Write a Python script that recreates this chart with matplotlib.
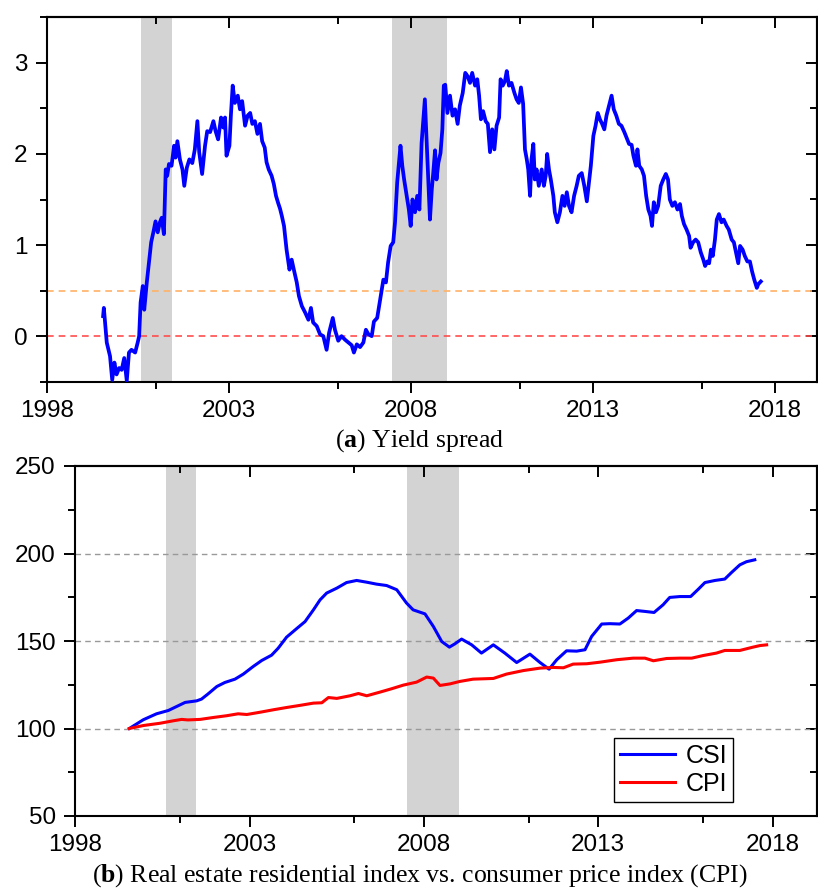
import numpy as np
import matplotlib
matplotlib.use("Agg")
import matplotlib.pyplot as plt
from matplotlib.ticker import FixedLocator

plt.rcParams["font.family"] = ["Liberation Sans", "DejaVu Sans"]
plt.rcParams["mathtext.fontset"] = "custom"
plt.rcParams["mathtext.rm"] = "Liberation Serif"
plt.rcParams["mathtext.bf"] = "Liberation Serif:bold"

# (a) yield spread
spread_t = [1999.55, 1999.57, 1999.65, 1999.74, 1999.80, 1999.86, 1999.92, 1999.99, 2000.06, 2000.13,
            2000.20, 2000.26, 2000.33, 2000.43, 2000.50, 2000.54, 2000.58, 2000.64, 2000.68, 2000.75,
            2000.81, 2000.87, 2000.93, 2000.99, 2001.05, 2001.11, 2001.16, 2001.22, 2001.27, 2001.31,
            2001.36, 2001.43, 2001.50, 2001.54, 2001.59, 2001.66, 2001.73, 2001.78, 2001.85, 2001.92,
            2002.00, 2002.07, 2002.14, 2002.19, 2002.27, 2002.35, 2002.41, 2002.49, 2002.58, 2002.64,
            2002.71, 2002.79, 2002.85, 2002.90, 2002.94, 2003.02, 2003.06, 2003.11, 2003.17, 2003.25,
            2003.31, 2003.37, 2003.45, 2003.52, 2003.59, 2003.65, 2003.72, 2003.79, 2003.86, 2003.92,
            2003.99, 2004.04, 2004.10, 2004.18, 2004.24, 2004.30, 2004.36, 2004.41, 2004.46, 2004.52,
            2004.59, 2004.67, 2004.73, 2004.79, 2004.87, 2004.93, 2005.01, 2005.10, 2005.19, 2005.26,
            2005.32, 2005.42, 2005.51, 2005.60, 2005.69, 2005.76, 2005.86, 2005.92, 2006.01, 2006.10,
            2006.20, 2006.29, 2006.38, 2006.44, 2006.52, 2006.61, 2006.70, 2006.77, 2006.84, 2006.93,
            2006.99, 2007.08, 2007.16, 2007.25, 2007.32, 2007.38, 2007.45, 2007.52, 2007.57, 2007.63,
            2007.68, 2007.72, 2007.77, 2007.82, 2007.89, 2007.95, 2008.00, 2008.05, 2008.12, 2008.18,
            2008.24, 2008.30, 2008.35, 2008.39, 2008.44, 2008.48, 2008.53, 2008.58, 2008.62, 2008.67,
            2008.71, 2008.76, 2008.82, 2008.87, 2008.91, 2008.95, 2009.01, 2009.08, 2009.15, 2009.22,
            2009.29, 2009.35, 2009.43, 2009.50, 2009.57, 2009.63, 2009.69, 2009.77, 2009.83, 2009.88,
            2009.93, 2009.99, 2010.06, 2010.12, 2010.18, 2010.24, 2010.30, 2010.36, 2010.43, 2010.47,
            2010.53, 2010.59, 2010.64, 2010.70, 2010.77, 2010.85, 2010.91, 2010.97, 2011.03, 2011.09,
            2011.14, 2011.19, 2011.23, 2011.28, 2011.32, 2011.37, 2011.41, 2011.46, 2011.52, 2011.60,
            2011.66, 2011.71, 2011.75, 2011.80, 2011.85, 2011.92, 2011.96, 2012.03, 2012.10, 2012.17,
            2012.23, 2012.29, 2012.35, 2012.42, 2012.49, 2012.56, 2012.62, 2012.70, 2012.77, 2012.84,
            2012.90, 2012.95, 2013.02, 2013.08, 2013.14, 2013.20, 2013.26, 2013.32, 2013.38, 2013.45,
            2013.52, 2013.58, 2013.65, 2013.72, 2013.79, 2013.87, 2013.93, 2014.00, 2014.07, 2014.12,
            2014.19, 2014.23, 2014.28, 2014.35, 2014.41, 2014.47, 2014.53, 2014.59, 2014.63, 2014.68,
            2014.74, 2014.80, 2014.87, 2014.94, 2015.01, 2015.07, 2015.12, 2015.19, 2015.26, 2015.33,
            2015.40, 2015.45, 2015.51, 2015.58, 2015.65, 2015.69, 2015.76, 2015.83, 2015.90, 2015.97,
            2016.04, 2016.09, 2016.15, 2016.20, 2016.25, 2016.30, 2016.36, 2016.41, 2016.47, 2016.54,
            2016.60, 2016.68, 2016.74, 2016.82, 2016.88, 2016.96, 2017.00, 2017.05, 2017.12, 2017.18,
            2017.25, 2017.32, 2017.38, 2017.44, 2017.51, 2017.55, 2017.62]
spread_v = [0.22, 0.31, -0.07, -0.22, -0.48, -0.29, -0.42, -0.35, -0.37, -0.24,
            -0.49, -0.18, -0.15, -0.18, -0.07, 0.00, 0.37, 0.55, 0.29, 0.59,
            0.81, 1.03, 1.14, 1.26, 1.14, 1.25, 1.30, 1.12, 1.83, 1.76,
            1.89, 1.87, 2.09, 1.96, 2.14, 1.94, 1.83, 1.65, 1.85, 1.94,
            1.90, 2.05, 2.36, 2.02, 1.78, 2.09, 2.25, 2.24, 2.36, 2.25,
            2.16, 2.40, 2.29, 2.40, 1.98, 2.09, 2.42, 2.75, 2.56, 2.64,
            2.49, 2.58, 2.31, 2.42, 2.45, 2.33, 2.36, 2.22, 2.33, 2.14,
            2.07, 1.91, 1.83, 1.76, 1.67, 1.54, 1.46, 1.40, 1.32, 1.21,
            0.95, 0.73, 0.84, 0.73, 0.59, 0.44, 0.33, 0.26, 0.18, 0.31,
            0.15, 0.11, 0.02, 0.00, -0.15, 0.04, 0.20, 0.07, -0.05, 0.00,
            -0.04, -0.07, -0.10, -0.18, -0.09, -0.12, -0.07, 0.07, 0.02, 0.00,
            0.16, 0.20, 0.40, 0.62, 0.59, 0.81, 0.99, 1.03, 1.25, 1.69,
            1.91, 2.09, 1.87, 1.72, 1.54, 1.39, 1.21, 1.50, 1.36, 1.54,
            1.39, 2.12, 2.38, 2.60, 2.12, 1.72, 1.28, 1.61, 1.79, 2.04,
            1.72, 1.90, 2.01, 2.27, 2.75, 2.76, 2.45, 2.64, 2.42, 2.49,
            2.33, 2.53, 2.67, 2.89, 2.85, 2.78, 2.89, 2.75, 2.82, 2.64,
            2.38, 2.47, 2.36, 2.33, 2.02, 2.27, 2.05, 2.31, 2.40, 2.82,
            2.75, 2.80, 2.91, 2.75, 2.78, 2.67, 2.60, 2.56, 2.73, 2.55,
            2.05, 1.94, 1.83, 1.54, 1.94, 2.11, 1.72, 1.83, 1.65, 1.83,
            1.65, 1.76, 2.00, 1.83, 1.72, 1.54, 1.36, 1.25, 1.36, 1.54,
            1.43, 1.58, 1.43, 1.36, 1.54, 1.65, 1.76, 1.79, 1.65, 1.48,
            1.69, 1.87, 2.20, 2.31, 2.45, 2.38, 2.33, 2.27, 2.42, 2.53,
            2.64, 2.49, 2.42, 2.33, 2.31, 2.24, 2.18, 2.11, 2.10, 1.98,
            1.87, 2.05, 1.87, 1.83, 1.76, 1.54, 1.39, 1.32, 1.21, 1.47,
            1.36, 1.43, 1.65, 1.72, 1.78, 1.72, 1.50, 1.43, 1.47, 1.39,
            1.45, 1.32, 1.23, 1.17, 1.10, 0.97, 1.03, 1.06, 1.03, 0.92,
            0.84, 0.77, 0.82, 0.80, 0.95, 0.88, 1.06, 1.28, 1.34, 1.25,
            1.28, 1.21, 1.17, 1.06, 1.03, 0.88, 0.80, 0.99, 0.95, 0.88,
            0.82, 0.82, 0.71, 0.62, 0.53, 0.57, 0.60]

# (b) CSI and CPI, both 100 at start
csi_t = [1999.55, 1999.95, 2000.33, 2000.67, 2000.91, 2001.15, 2001.48, 2001.62, 2001.81, 2002.06,
         2002.29, 2002.58, 2002.82, 2003.10, 2003.35, 2003.63, 2003.82, 2004.06, 2004.35, 2004.59,
         2004.83, 2005.02, 2005.21, 2005.50, 2005.78, 2006.07, 2006.36, 2006.64, 2006.93, 2007.22,
         2007.50, 2007.69, 2008.03, 2008.27, 2008.51, 2008.73, 2008.89, 2009.08, 2009.37, 2009.65,
         2009.99, 2010.32, 2010.66, 2011.04, 2011.33, 2011.59, 2011.81, 2012.09, 2012.38, 2012.62,
         2012.81, 2013.10, 2013.33, 2013.62, 2013.86, 2014.10, 2014.34, 2014.60, 2014.86, 2015.05,
         2015.34, 2015.65, 2015.87, 2016.06, 2016.35, 2016.63, 2016.82, 2017.06, 2017.25, 2017.49]
csi_v = [100.0, 105.0, 108.4, 110.3, 112.6, 114.9, 115.8, 116.8, 119.8, 124.0,
         126.3, 128.2, 131.1, 135.4, 138.9, 141.9, 145.9, 152.2, 157.1, 161.1,
         167.8, 173.5, 177.4, 180.2, 183.4, 184.6, 183.6, 182.5, 181.7, 179.3,
         171.7, 167.8, 165.5, 158.3, 149.7, 146.5, 148.4, 151.1, 147.8, 143.1,
         147.8, 143.1, 137.7, 142.5, 137.7, 133.9, 139.3, 144.4, 144.2, 145.0,
         152.6, 159.7, 159.9, 159.7, 163.1, 167.4, 166.9, 166.3, 170.7, 174.9,
         175.4, 175.4, 179.6, 183.4, 184.6, 185.4, 189.1, 193.5, 195.3, 196.4]
cpi_t = [1999.55, 1999.95, 2000.43, 2000.81, 2001.05, 2001.23, 2001.58, 2001.96, 2002.34, 2002.67,
         2002.92, 2003.30, 2003.68, 2004.06, 2004.44, 2004.83, 2005.07, 2005.26, 2005.50, 2005.88,
         2006.12, 2006.36, 2006.74, 2007.07, 2007.41, 2007.79, 2008.08, 2008.27, 2008.46, 2008.75,
         2009.03, 2009.41, 2009.99, 2010.37, 2010.85, 2011.33, 2011.71, 2012.00, 2012.28, 2012.67,
         2013.05, 2013.53, 2014.00, 2014.34, 2014.58, 2014.96, 2015.34, 2015.68, 2016.01, 2016.39,
         2016.63, 2017.06, 2017.44, 2017.64, 2017.83]
cpi_v = [100.0, 101.7, 103.0, 104.4, 105.2, 104.9, 105.2, 106.3, 107.3, 108.4,
         108.0, 109.3, 110.7, 112.0, 113.2, 114.5, 114.7, 117.7, 117.2, 118.7,
         120.0, 118.7, 120.8, 122.7, 124.8, 126.5, 129.4, 128.8, 124.6, 125.5,
         126.9, 128.2, 128.6, 131.1, 133.1, 134.5, 134.9, 134.7, 136.8, 137.0,
         137.9, 139.3, 140.2, 140.2, 138.7, 140.0, 140.2, 140.2, 141.7, 143.1,
         144.6, 144.6, 146.5, 147.4, 147.8]

# shaded periods (as placed on the chart's year axis)
shades = [(2000.6, 2001.45), (2007.5, 2009.0)]

major_years = [1998, 2003, 2008, 2013, 2018]
minor_years = [2001, 2006, 2011, 2016]

fig = plt.figure(figsize=(8.18, 8.89), dpi=100)
ax1 = fig.add_axes([46.7 / 818, 1 - 381.7 / 889, (816.5 - 46.7) / 818, (381.7 - 17.3) / 889])
ax2 = fig.add_axes([75.3 / 818, 1 - 816 / 889, (816.5 - 75.3) / 818, (816 - 466) / 889])


def style(ax, xlim, ylim, yticks, yminor):
    ax.set_xlim(*xlim)
    ax.set_ylim(*ylim)
    ax.set_xticks(major_years)
    ax.xaxis.set_minor_locator(FixedLocator(minor_years))
    ax.set_yticks(yticks)
    ax.yaxis.set_minor_locator(FixedLocator(yminor))
    ax.tick_params(which="both", direction="out", width=1.4, labelsize=17.5)
    ax.tick_params(axis="x", pad=5)
    ax.tick_params(axis="y", pad=6)
    ax.tick_params(which="major", length=8)
    ax.tick_params(which="minor", length=5)
    for s in ax.spines.values():
        s.set_linewidth(1.5)
    # mirrored inward ticks on top and right
    top = ax.secondary_xaxis("top")
    top.set_xticks(major_years)
    top.xaxis.set_minor_locator(FixedLocator(minor_years))
    top.tick_params(which="both", direction="in", width=1.4, labeltop=False)
    top.tick_params(which="major", length=8)
    top.tick_params(which="minor", length=5)
    right = ax.secondary_yaxis("right")
    right.set_yticks(yticks)
    right.yaxis.set_minor_locator(FixedLocator(yminor))
    right.tick_params(which="both", direction="in", width=1.4, labelright=False)
    right.tick_params(which="major", length=8)
    right.tick_params(which="minor", length=5)
    for s in list(top.spines.values()) + list(right.spines.values()):
        s.set_linewidth(1.5)


# --- panel (a)
for a, b in shades:
    ax1.axvspan(a, b, color="#d3d3d3", lw=0, zorder=0)
ax1.axhline(0.5, color="#ffb266", ls=(0, (4, 3)), lw=1.2, zorder=1)
ax1.axhline(0.0, color="#ff4d4d", ls=(0, (4, 3)), lw=1.2, zorder=1)
ax1.plot(spread_t, spread_v, color="#0000ff", lw=2.7, zorder=3)
style(ax1, (1998, 2019.15), (-0.5, 3.5), [0, 1, 2, 3], [-0.5, 0.5, 1.5, 2.5, 3.5])

# --- panel (b)
for a, b in shades:
    ax2.axvspan(a, b, color="#d3d3d3", lw=0, zorder=0)
for g in [100, 150, 200]:
    ax2.axhline(g, color="#999999", ls=(0, (4, 3)), lw=1.0, zorder=1)
ax2.plot(csi_t, csi_v, color="#0000ff", lw=2.2, label="CSI", zorder=3)
ax2.plot(cpi_t, cpi_v, color="#ff0000", lw=2.2, label="CPI", zorder=3)
style(ax2, (1998, 2019.26), (50, 250), [50, 100, 150, 200, 250], [75, 125, 175, 225])

leg = ax2.legend(loc="lower left", bbox_to_anchor=(0.727, 0.04), fontsize=18, frameon=True,
                 fancybox=False, framealpha=1, edgecolor="black", handlelength=2.2,
                 borderpad=0.25, labelspacing=0.15, handletextpad=0.4, borderaxespad=0)
leg.get_frame().set_linewidth(1.0)

fig.text(420 / 818, 1 - 441 / 889, r"($\mathbf{a}$) Yield spread", ha="center", va="center",
         fontsize=18.5, family="Liberation Serif")
fig.text(420 / 818, 1 - 876 / 889,
         r"($\mathbf{b}$) Real estate residential index vs. consumer price index (CPI)",
         ha="center", va="center", fontsize=18.5, family="Liberation Serif")

fig.savefig("out.png", dpi=100)
